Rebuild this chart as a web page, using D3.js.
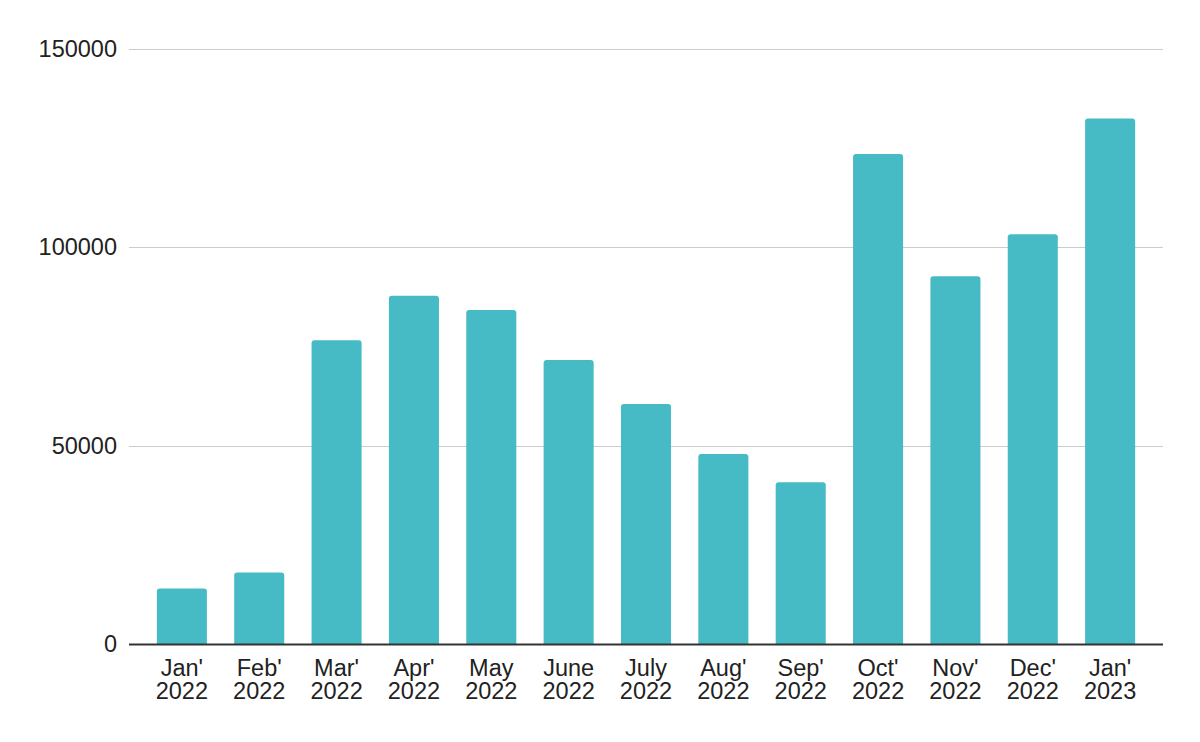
<!DOCTYPE html>
<html>
<head>
<meta charset="utf-8">
<script src="https://cdn.jsdelivr.net/npm/d3@7"></script>
<style>
  html, body { margin: 0; padding: 0; background: #fff; }
  svg { display: block; }
</style>
</head>
<body>
<svg id="chart" width="1200" height="742"></svg>
<script>
const months = ["Jan'", "Feb'", "Mar'", "Apr'", "May", "June", "July", "Aug'", "Sep'", "Oct'", "Nov'", "Dec'", "Jan'"];
const years = ["2022", "2022", "2022", "2022", "2022", "2022", "2022", "2022", "2022", "2022", "2022", "2022", "2023"];
const values = [14000, 18000, 76600, 87800, 84200, 71600, 60500, 47900, 40800, 123500, 92700, 103300, 132500];
const yTicks = [0, 50000, 100000, 150000];

(function () {
const svg = d3.select("#chart");
const mLeft = 129, mRight = 1163, mTop = 49, mBottom = 644;
const font = "'Liberation Sans', Arial, sans-serif";
const fsize = 23.5;

const x = d3.scaleBand()
  .domain(d3.range(values.length))
  .range([mLeft, mRight])
  .paddingInner(0.353)
  .paddingOuter(0.36);

const y = d3.scaleLinear().domain([0, 150000]).range([mBottom, mTop]);

// gridlines
svg.append("g")
  .selectAll("line")
  .data(yTicks.filter(d => d > 0))
  .join("line")
  .attr("x1", mLeft).attr("x2", mRight)
  .attr("y1", d => Math.round(y(d)) + 0.5).attr("y2", d => Math.round(y(d)) + 0.5)
  .attr("stroke", "#cccccc").attr("stroke-width", 1);

// y labels
svg.append("g")
  .selectAll("text")
  .data(yTicks)
  .join("text")
  .attr("x", 117)
  .attr("y", d => y(d) + 8)
  .attr("text-anchor", "end")
  .attr("font-family", font)
  .attr("font-size", fsize)
  .attr("fill", "#222")
  .text(d => d);

// bars with rounded top corners
const r = 3;
svg.append("g")
  .selectAll("path")
  .data(values)
  .join("path")
  .attr("fill", "#47bbc5")
  .attr("d", (d, i) => {
    const x0 = x(i), w = x.bandwidth(), y0 = y(d), yb = y(0);
    return `M${x0},${yb} L${x0},${y0 + r} Q${x0},${y0} ${x0 + r},${y0} L${x0 + w - r},${y0} Q${x0 + w},${y0} ${x0 + w},${y0 + r} L${x0 + w},${yb} Z`;
  });

// baseline
svg.append("line")
  .attr("x1", mLeft).attr("x2", mRight)
  .attr("y1", mBottom + 0.5).attr("y2", mBottom + 0.5)
  .attr("stroke", "#333").attr("stroke-width", 2);

// x labels
const xl = svg.append("g")
  .selectAll("text")
  .data(values.map((d, i) => i))
  .join("text")
  .attr("text-anchor", "middle")
  .attr("font-family", font)
  .attr("font-size", fsize)
  .attr("fill", "#222");
xl.append("tspan")
  .attr("x", i => x(i) + x.bandwidth() / 2)
  .attr("y", 676)
  .text(i => months[i]);
xl.append("tspan")
  .attr("x", i => x(i) + x.bandwidth() / 2)
  .attr("y", 699)
  .text(i => years[i]);
})();
</script>
</body>
</html>
